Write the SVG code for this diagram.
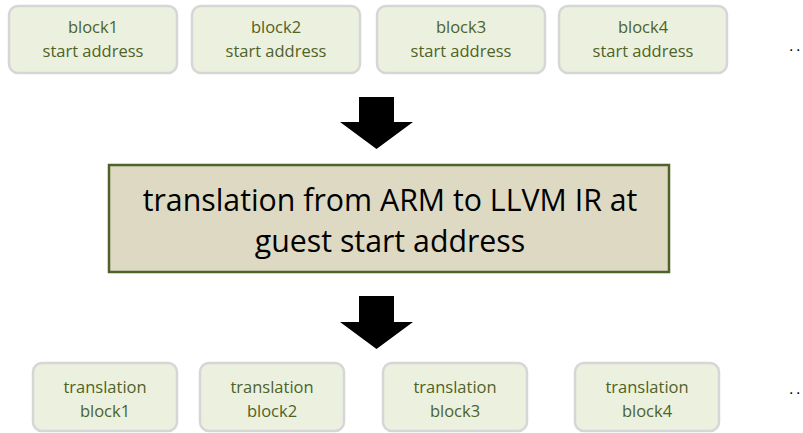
<svg xmlns="http://www.w3.org/2000/svg" width="803" height="433" viewBox="0 0 803 433">
  <defs>
    <style>
      .small { fill: #ebf1de; stroke: #d6d6d6; stroke-width: 2.5; }
      .small-t { font-family: "Open Sans", "Liberation Sans", Arial, sans-serif; font-size: 16.5px; fill: #4f6228; text-anchor: middle; }
      .main { fill: #ddd9c3; stroke: #4f6228; stroke-width: 2.5; }
      .main-t { font-family: "Open Sans", "Liberation Sans", Arial, sans-serif; font-size: 30.3px; fill: #000; text-anchor: middle; }
      .arrow { fill: #000; }
      .dots { font-family: "Liberation Sans", Arial, sans-serif; font-size: 16px; fill: #000; letter-spacing: 2.6px; }
    </style>
  </defs>
  <rect width="803" height="433" fill="#fff"/>

  <!-- start addresses -->
  <g id="block1-start">
    <rect class="small" x="9" y="6" width="168" height="67" rx="9"/>
    <text class="small-t" x="93" y="33">block1</text>
    <text class="small-t" x="93" y="57">start address</text>
  </g>
  <g id="block2-start">
    <rect class="small" x="192" y="6" width="168" height="67" rx="9"/>
    <text class="small-t" x="276" y="33">block2</text>
    <text class="small-t" x="276" y="57">start address</text>
  </g>
  <g id="block3-start">
    <rect class="small" x="377" y="6" width="168" height="67" rx="9"/>
    <text class="small-t" x="461" y="33">block3</text>
    <text class="small-t" x="461" y="57">start address</text>
  </g>
  <g id="block4-start">
    <rect class="small" x="559" y="6" width="168" height="67" rx="9"/>
    <text class="small-t" x="643" y="33">block4</text>
    <text class="small-t" x="643" y="57">start address</text>
  </g>
  <text class="dots" x="789" y="51">..</text>

  <!-- translator -->
  <g id="translator">
    <rect class="main" x="109" y="165" width="560" height="107"/>
    <text class="main-t" x="390" y="211">translation from ARM to LLVM IR at</text>
    <text class="main-t" x="390" y="252">guest start address</text>
  </g>

  <!-- translated blocks -->
  <g id="tb1">
    <rect class="small" x="33" y="363" width="144" height="68" rx="9"/>
    <text class="small-t" x="105" y="393">translation</text>
    <text class="small-t" x="105" y="417">block1</text>
  </g>
  <g id="tb2">
    <rect class="small" x="200" y="363" width="144" height="68" rx="9"/>
    <text class="small-t" x="272" y="393">translation</text>
    <text class="small-t" x="272" y="417">block2</text>
  </g>
  <g id="tb3">
    <rect class="small" x="383" y="363" width="144" height="68" rx="9"/>
    <text class="small-t" x="455" y="393">translation</text>
    <text class="small-t" x="455" y="417">block3</text>
  </g>
  <g id="tb4">
    <rect class="small" x="575" y="363" width="144" height="68" rx="9"/>
    <text class="small-t" x="647" y="393">translation</text>
    <text class="small-t" x="647" y="417">block4</text>
  </g>
  <text class="dots" x="789" y="394">..</text>

  <!-- block arrows -->
  <g id="connectors">
    <polygon class="arrow" points="359,97 394,97 394,122 413,122 376.5,149 340,122 359,122"/>
    <polygon class="arrow" points="359,296 394,296 394,322 413,322 376.5,349 340,322 359,322"/>
  </g>
</svg>
